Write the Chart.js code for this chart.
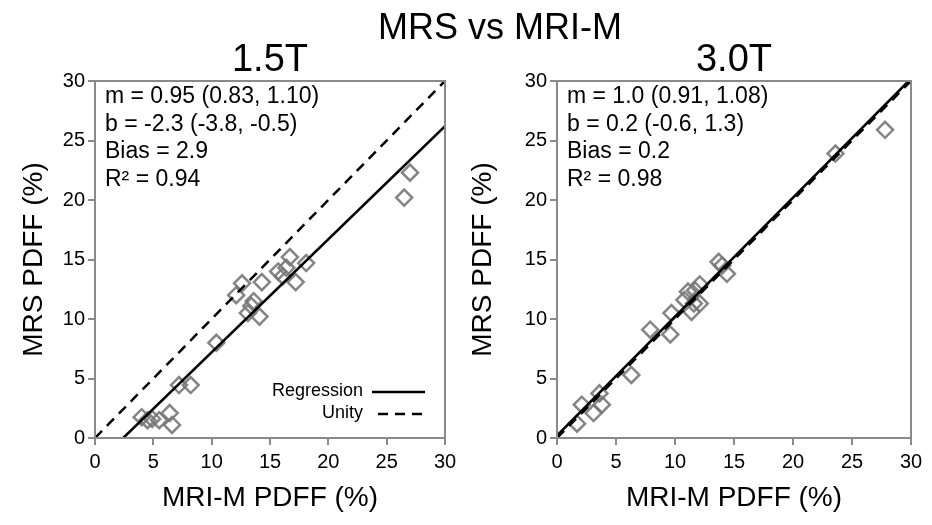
<!DOCTYPE html>
<html lang="en">
<head>
  <meta charset="UTF-8" />
  <title>MRS vs MRI-M</title>
  <script src="https://cdn.jsdelivr.net/npm/chart.js"></script>
  <style>
    body { margin: 0; background: #fff; font-family: "Liberation Sans", Arial, sans-serif; }
    #page { position: relative; width: 932px; height: 525px; overflow: hidden; }
    h1 { position: absolute; top: 6px; left: 300px; width: 400px; margin: 0; text-align: center;
         font-weight: normal; font-size: 36px; line-height: 42px; color: #000; }
    .panel { position: absolute; top: 0; width: 466px; height: 525px; }
  </style>
</head>
<body>
  <div id="page">
    <div class="panel" style="left:0"><canvas id="c15" width="466" height="525"></canvas></div>
    <div class="panel" style="left:466px"><canvas id="c30" width="466" height="525"></canvas></div>
    <h1>MRS vs MRI-M</h1>
  </div>

  <script>
    // axis range / ticks shared by both panels
    const axisMin = 0;
    const axisMax = 30;
    const axisStep = 5;

    // 1.5T: MRI-M PDFF (x) vs MRS PDFF (y)
    const mri15 = [26.5, 27.0, 18.1, 17.2, 16.7, 16.4, 16.1, 15.7, 14.3, 14.1, 13.6, 13.1, 12.6, 12.1, 13.4,
                   10.4, 8.2, 7.2, 6.4, 6.6, 5.5, 4.9, 4.5, 4.0];
    const mrs15 = [20.2, 22.3, 14.7, 13.1, 15.2, 14.3, 13.6, 14.0, 13.1, 10.2, 11.5, 10.5, 13.0, 12.0, 11.1,
                   8.0, 4.45, 4.45, 2.1, 1.1, 1.5, 1.6, 1.5, 1.75];
    const slope15 = 0.95;
    const intercept15 = -2.3;
    const stats15 = ['m = 0.95 (0.83, 1.10)', 'b = -2.3 (-3.8, -0.5)', 'Bias = 2.9', 'R\u00B2 = 0.94'];

    // 3.0T
    const mri30 = [27.8, 23.6, 14.4, 14.0, 13.7, 12.1, 11.7, 11.1, 10.8, 11.6, 12.1, 11.4, 9.7, 9.6, 7.9,
                   6.3, 3.6, 3.8, 3.1, 2.1, 1.7];
    const mrs30 = [25.9, 23.9, 13.8, 14.5, 14.8, 12.9, 12.4, 12.3, 11.6, 11.3, 11.3, 10.6, 10.5, 8.7, 9.1,
                   5.3, 3.75, 2.8, 2.1, 2.8, 1.2];
    const slope30 = 1.0;
    const intercept30 = 0.2;
    const stats30 = ['m = 1.0 (0.91, 1.08)', 'b = 0.2 (-0.6, 1.3)', 'Bias = 0.2', 'R\u00B2 = 0.98'];

    const legendLabels = ['Regression', 'Unity'];

    const FONT = '"Liberation Sans", Arial, sans-serif';
    const AXIS_GRAY = '#8a8a8a';

    // frame around the plot, stats text, and the little legend
    const panelDecor = {
      id: 'panelDecor',
      afterDatasetsDraw(chart, args, opts) {
        const { ctx, chartArea: a } = chart;
        ctx.save();
        ctx.strokeStyle = AXIS_GRAY;
        ctx.lineWidth = 2;
        ctx.strokeRect(a.left, a.top, a.right - a.left, a.bottom - a.top);

        ctx.fillStyle = '#000';
        ctx.font = '23px ' + FONT;
        ctx.textBaseline = 'middle';
        ctx.textAlign = 'left';
        opts.lines.forEach((t, i) => ctx.fillText(t, a.left + 10, a.top + 16 + i * 27.5));

        if (opts.legend) {
          ctx.font = '18px ' + FONT;
          ctx.textAlign = 'right';
          ctx.strokeStyle = '#000';
          ctx.lineWidth = 2.5;
          legendLabels.forEach((lab, i) => {
            const y = a.bottom - 47 + i * 22;
            ctx.fillText(lab, a.left + 268, y);
            ctx.setLineDash(i === 0 ? [] : [10, 7]);
            ctx.beginPath();
            ctx.moveTo(a.left + 277 + (i === 0 ? 0 : 6), y + 1);
            ctx.lineTo(a.left + 330, y + 1);
            ctx.stroke();
          });
        }
        ctx.restore();
      }
    };

    function makePanel(id, title, mri, mrs, slope, intercept, stats, showLegend, padLeft, yWidth) {
      const pts = mri.map((x, i) => ({ x: x, y: mrs[i] }));
      const x0 = Math.max(axisMin, (axisMin - intercept) / slope);
      const x1 = Math.min(axisMax, (axisMax - intercept) / slope);
      const fitLine = [{ x: x0, y: slope * x0 + intercept }, { x: x1, y: slope * x1 + intercept }];
      const unity = [{ x: axisMin, y: axisMin }, { x: axisMax, y: axisMax }];

      const axis = (label, isX) => ({
        type: 'linear',
        min: axisMin,
        max: axisMax,
        ticks: { stepSize: axisStep, color: '#000', font: { size: 20, family: FONT }, padding: isX ? 5 : 3 },
        grid: { drawOnChartArea: false, drawTicks: true, tickLength: 7, color: AXIS_GRAY, lineWidth: 2 },
        border: { color: AXIS_GRAY, width: 2 },
        title: { display: true, text: label, color: '#000', font: { size: 28, family: FONT }, padding: 0 },
        afterFit: s => { if (isX) s.height = 77; else s.width = yWidth; }
      });

      return new Chart(document.getElementById(id), {
        type: 'scatter',
        data: {
          datasets: [
            { type: 'line', data: fitLine, borderColor: '#000', borderWidth: 2.5, pointRadius: 0, fill: false },
            { type: 'line', data: unity, borderColor: '#000', borderWidth: 2.5, borderDash: [10, 7], pointRadius: 0, fill: false },
            { data: pts, pointStyle: 'rectRot', pointRadius: 8, pointBorderWidth: 2.5,
              pointBorderColor: 'rgba(120,120,120,0.9)', pointBackgroundColor: 'rgba(0,0,0,0)' }
          ]
        },
        options: {
          responsive: false,
          animation: false,
          devicePixelRatio: 1,
          layout: { padding: { left: padLeft, right: 21, top: 0, bottom: 10 } },
          scales: { x: axis('MRI-M PDFF (%)', true), y: axis('MRS PDFF (%)', false) },
          plugins: {
            legend: { display: false },
            tooltip: { enabled: false },
            title: { display: true, text: title, fullSize: false, color: '#000',
                     font: { size: 38, weight: 'normal', family: FONT, lineHeight: 1.0 }, padding: { top: 42, bottom: 1 } },
            panelDecor: { lines: stats, legend: showLegend }
          }
        },
        plugins: [panelDecor]
      });
    }

    makePanel('c15', '1.5T', mri15, mrs15, slope15, intercept15, stats15, true, 17, 78);
    makePanel('c30', '3.0T', mri30, mrs30, slope30, intercept30, stats30, false, 0, 91);
  </script>
</body>
</html>
